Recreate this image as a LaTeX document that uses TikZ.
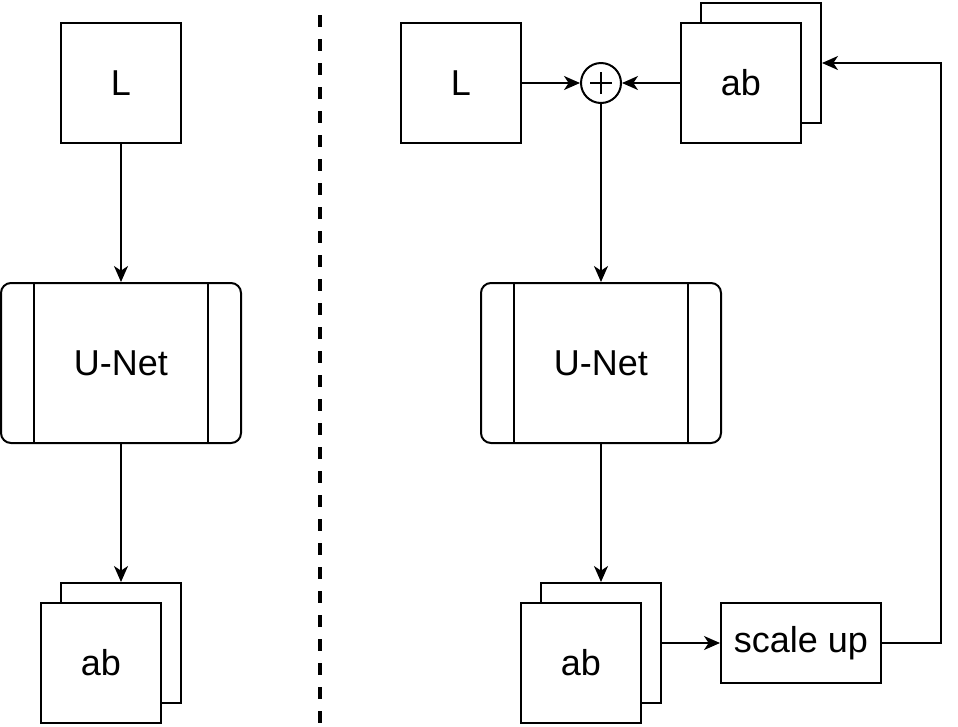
\documentclass[tikz,border=0pt]{standalone}
\usepackage{fontspec}
\setmainfont{Liberation Sans}
\usetikzlibrary{arrows.meta}
\begin{document}
\begin{tikzpicture}[x=0.75pt,y=-0.75pt, line width=1.5pt,
  txt/.style={font=\fontsize{27}{32}\selectfont},
  sqbox/.style={draw, fill=white, inner sep=0pt, minimum width=90pt, minimum height=90pt, txt},
  unet/.style={draw, fill=white, rounded corners=7.5pt, inner sep=0pt, minimum width=180pt, minimum height=120pt, txt},
  wbox/.style={draw, fill=white, inner sep=0pt, minimum width=120pt, minimum height=60pt, txt},
  sumnode/.style={draw, circle, fill=white, inner sep=0pt, minimum size=30pt},
  arr/.style={-{Stealth[length=12pt, width=10.5pt, inset=3.5pt]}},
]
\useasboundingbox (0,0) rectangle (958,726);

% left column
\node[sqbox] (L1) at (121,83) {L};
\node[unet] (U1) at (121,363) {U-Net};
\draw ([xshift=25.5pt]U1.north west) -- ([xshift=25.5pt]U1.south west);
\draw ([xshift=-25.5pt]U1.north east) -- ([xshift=-25.5pt]U1.south east);
\node[sqbox] (ab1b) at (121,643) {};
\node[sqbox] (ab1) at (101,663) {ab};
\draw[arr] (L1) -- (U1);
\draw[arr] (U1) -- (ab1b);

% divider
\coordinate (dtop) at (320,15);
\coordinate (dbot) at (320,726);
\draw[line width=2.6pt, dash pattern=on 9pt off 9pt] (dtop) -- (dbot);

% right column
\node[sqbox] (L2) at (461,83) {L};
\node[sumnode] (plus) at (601,83) {};
\draw ([xshift=-8.25pt]plus.center) -- ([xshift=8.25pt]plus.center);
\draw ([yshift=-8.25pt]plus.center) -- ([yshift=8.25pt]plus.center);
\node[sqbox] (ab2b) at (761,63) {};
\node[sqbox] (ab2) at (741,83) {ab};
\node[unet] (U2) at (601,363) {U-Net};
\draw ([xshift=25.5pt]U2.north west) -- ([xshift=25.5pt]U2.south west);
\draw ([xshift=-25.5pt]U2.north east) -- ([xshift=-25.5pt]U2.south east);
\node[sqbox] (ab3b) at (601,643) {};
\node[sqbox] (ab3) at (581,663) {ab};
\node[wbox] (scale) at (801,643) {scale up};
\coordinate (corner) at (941,643);

\draw[arr] (L2) -- (plus);
\draw[arr] (ab2) -- (plus);
\draw[arr] (plus) -- (U2);
\draw[arr] (U2) -- (ab3b);
\draw[arr] (ab3b.east) -- (scale.west);
\draw[arr] (scale.east) -- (corner) |- (ab2b.east);
\end{tikzpicture}
\end{document}
